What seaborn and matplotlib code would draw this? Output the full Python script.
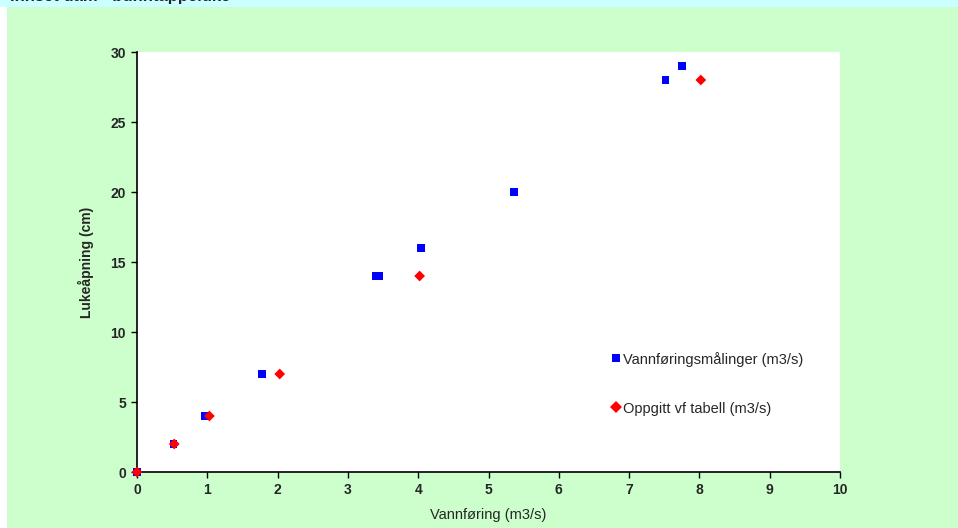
import matplotlib
matplotlib.use("Agg")
import matplotlib.pyplot as plt
import matplotlib.patches as mpatches
import numpy as np
import pandas as pd
import seaborn as sns

# measured discharge vs gate opening
maalt_q = [0.0, 0.52, 0.97, 1.78, 3.40, 3.44, 4.04, 5.36, 7.52, 7.75]
maalt_h = [0, 2, 4, 7, 14, 14, 16, 20, 28, 29]
# discharge from table
tabell_q = [0.0, 0.53, 1.03, 2.03, 4.02, 8.02]
tabell_h = [0, 2, 4, 7, 14, 28]

lbl_maalt = "Vannføringsmålinger (m3/s)"
lbl_tabell = "Oppgitt vf tabell (m3/s)"

df = pd.concat([
    pd.DataFrame({"q": maalt_q, "h": maalt_h, "serie": lbl_maalt}),
    pd.DataFrame({"q": tabell_q, "h": tabell_h, "serie": lbl_tabell}),
])

sns.set_style("white")
plt.rcParams["font.family"] = ["Liberation Sans", "DejaVu Sans"]

fig = plt.figure(figsize=(9.58, 5.28), dpi=100)
fig.patch.set_facecolor("white")
# background bands
fig.patches.append(mpatches.Rectangle((7 / 958, 0), 1, 1 - 7 / 528, transform=fig.transFigure,
                                      facecolor="#CCFFCC", edgecolor="none", zorder=-10))
fig.patches.append(mpatches.Rectangle((0, 1 - 7 / 528), 1, 7 / 528, transform=fig.transFigure,
                                      facecolor="#CCFFFF", edgecolor="none", zorder=-10))
fig.text(10 / 958, 1 - 1.5 / 528, "Innset dam - bunntappeluke", fontsize=12, fontweight="bold",
         va="baseline", ha="left")

ax = fig.add_axes([137 / 958, 56 / 528, 703 / 958, 420 / 528])
ax.set_facecolor("white")

sns.scatterplot(data=df, x="q", y="h", hue="serie", style="serie",
                palette={lbl_maalt: "#0000FF", lbl_tabell: "#FF0000"},
                markers={lbl_maalt: "s", lbl_tabell: "D"},
                s=30, linewidth=0, ax=ax, clip_on=False, zorder=3)

ax.set_xlim(0, 10)
ax.set_ylim(0, 30)
ax.set_xticks(np.arange(0, 11, 1))
ax.set_yticks(np.arange(0, 31, 5))
for s in ["top", "right"]:
    ax.spines[s].set_visible(False)
for s in ["left", "bottom"]:
    ax.spines[s].set_color("black")
    ax.spines[s].set_linewidth(1.2)
ax.tick_params(axis="both", direction="out", length=4, width=1, color="black",
               labelsize=10, pad=4, left=True, bottom=True)
for t in ax.get_xticklabels() + ax.get_yticklabels():
    t.set_fontweight("bold")

ax.set_xlabel("Vannføring (m3/s)", fontsize=10.5, labelpad=8)
ax.set_ylabel("Lukeåpning (cm)", fontsize=10, fontweight="bold", labelpad=12)

handles, labels = ax.get_legend_handles_labels()
leg = ax.legend(handles, labels, loc="upper left", bbox_to_anchor=(0.652, 0.318),
                frameon=False, fontsize=10.5, labelspacing=2.4, handletextpad=0.0,
                handlelength=1.0, markerscale=1.1)

fig.savefig("out.png", dpi=100)
